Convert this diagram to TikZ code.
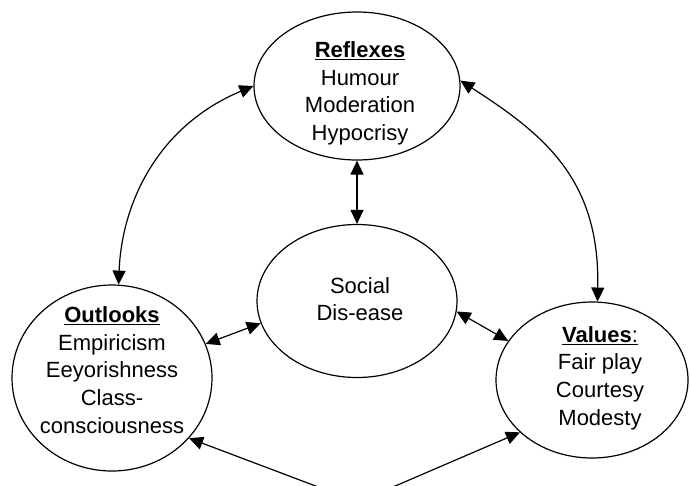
\documentclass[tikz,border=0pt]{standalone}
\usepackage{fontspec}
\setmainfont{Liberation Sans}
\usetikzlibrary{arrows.meta,shapes.geometric}
\begin{document}
\begin{tikzpicture}[x=1pt,y=-1pt,
  oval/.style={draw, ellipse, line width=1.2pt, inner sep=0pt},
  txt/.style={align=center, font=\fontsize{22}{27.6}\selectfont, inner sep=0pt},
  link/.style={line width=1.2pt, {Triangle[length=14pt,width=13pt]}-{Triangle[length=14pt,width=13pt]}}]
\useasboundingbox (0,0) rectangle (690,485);
% ellipses
\node[oval, minimum width=206pt, minimum height=148pt] (R) at (357,86) {};
\node[oval, minimum width=200pt, minimum height=153pt] (S) at (357,301) {};
\node[oval, minimum width=200pt, minimum height=186pt] (O) at (112,378) {};
\node[oval, minimum width=192pt, minimum height=156pt] (V) at (592,380) {};
% texts
\node[txt] (Rt) at (360,93.5) {\underline{\textbf{Reflexes}}\\Humour\\Moderation\\Hypocrisy};
\node[txt] (St) at (360,299) {Social\\Dis-ease};
\node[txt] (Ot) at (112,370) {\underline{\textbf{Outlooks}}\\Empiricism\\Eeyorishness\\Class-\\consciousness};
\node[txt] (Vt) at (600,378) {\underline{\textbf{Values}:}\\Fair play\\Courtesy\\Modesty};
% connectors
\draw[link] (O.86) .. controls (122,200) and (160,125) .. (R.180);
\draw[link] (R.3) .. controls (545,135) and (600,180) .. (V.86);
\draw[link] (R.south) -- (S.north);
\draw[link] (O.20) -- (S.193);
\draw[link] (S.-6) -- (V.155);
\coordinate (B) at (358,502);
\draw[link] (O.-38) -- (B) -- (V.216);
\end{tikzpicture}
\end{document}
